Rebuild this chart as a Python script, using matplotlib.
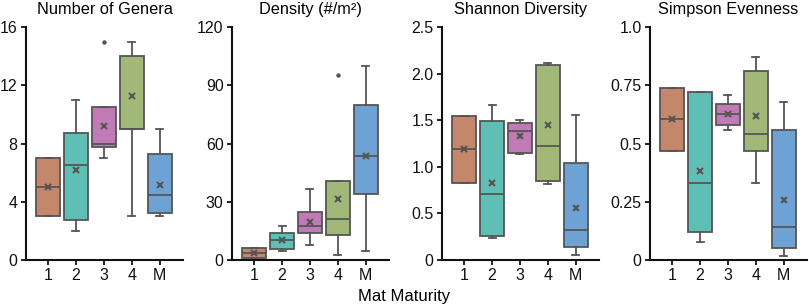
import matplotlib
matplotlib.use("Agg")
import matplotlib.pyplot as plt

groups = ['1', '2', '3', '4', 'M']
colors = ['#c4876b', '#5fbfb4', '#c07ab6', '#a2b878', '#6fa2d4']

# Number of Genera
genera_q1 = [3.0, 2.75, 7.75, 9.0, 3.25]
genera_med = [5.0, 6.5, 8.0, 9.0, 4.5]
genera_q3 = [7.0, 8.75, 10.5, 14.0, 7.25]
genera_lo = [3.0, 2.0, 7.0, 3.0, 3.0]
genera_hi = [7.0, 11.0, 10.5, 15.0, 9.0]
genera_mean = [5.0, 6.17, 9.17, 11.27, 5.12]
genera_fliers = [[], [], [15.0], [], []]

# Density
dens_q1 = [1.0, 5.7, 13.9, 13.0, 34.1]
dens_med = [3.4, 10.5, 17.8, 21.3, 53.8]
dens_q3 = [6.0, 14.0, 24.5, 40.8, 80.0]
dens_lo = [0.5, 4.8, 7.7, 2.6, 4.8]
dens_hi = [6.0, 17.8, 36.5, 40.8, 99.8]
dens_mean = [3.4, 10.6, 19.5, 31.5, 53.5]
dens_fliers = [[], [], [], [95.5], []]

# Shannon Diversity
shan_q1 = [0.83, 0.254, 1.143, 0.843, 0.136]
shan_med = [1.19, 0.704, 1.379, 1.225, 0.325]
shan_q3 = [1.546, 1.493, 1.468, 2.096, 1.046]
shan_lo = [0.83, 0.24, 1.136, 0.821, 0.054]
shan_hi = [1.546, 1.668, 1.5, 2.118, 1.557]
shan_mean = [1.19, 0.832, 1.332, 1.45, 0.56]
shan_fliers = [[], [], [], [], []]

# Simpson Evenness
simp_q1 = [0.47, 0.119, 0.58, 0.47, 0.05]
simp_med = [0.606, 0.331, 0.626, 0.539, 0.144]
simp_q3 = [0.74, 0.719, 0.669, 0.81, 0.557]
simp_lo = [0.47, 0.079, 0.559, 0.331, 0.019]
simp_hi = [0.74, 0.719, 0.707, 0.87, 0.68]
simp_mean = [0.604, 0.384, 0.626, 0.619, 0.259]
simp_fliers = [[], [], [], [], []]

panels = [
    ('Number of Genera', genera_q1, genera_med, genera_q3, genera_lo, genera_hi, genera_mean, genera_fliers,
     [0, 4, 8, 12, 16], ['0', '4', '8', '12', '16']),
    ('Density (#/m²)', dens_q1, dens_med, dens_q3, dens_lo, dens_hi, dens_mean, dens_fliers,
     [0, 30, 60, 90, 120], ['0', '30', '60', '90', '120']),
    ('Shannon Diversity', shan_q1, shan_med, shan_q3, shan_lo, shan_hi, shan_mean, shan_fliers,
     [0, 0.5, 1.0, 1.5, 2.0, 2.5], ['0', '0.5', '1.0', '1.5', '2.0', '2.5']),
    ('Simpson Evenness', simp_q1, simp_med, simp_q3, simp_lo, simp_hi, simp_mean, simp_fliers,
     [0, 0.25, 0.5, 0.75, 1.0], ['0', '0.25', '0.5', '0.75', '1.0']),
]

plt.rcParams['font.family'] = ['Liberation Sans', 'DejaVu Sans']

fig = plt.figure(figsize=(8.09, 3.06), dpi=100)
lefts = [0.0321, 0.2868, 0.5464, 0.8035]
edge = '#555555'

for left, (title, q1, med, q3, lo, hi, mean, fl, yt, ytl) in zip(lefts, panels):
    ax = fig.add_axes([left, 0.150, 0.194, 0.762])
    stats = []
    for i in range(len(groups)):
        stats.append(dict(q1=q1[i], med=med[i], q3=q3[i], whislo=lo[i], whishi=hi[i],
                          mean=mean[i], fliers=fl[i], label=groups[i]))
    bp = ax.bxp(stats, positions=range(1, 6), widths=0.85, capwidths=0.25,
                patch_artist=True, showmeans=True,
                boxprops=dict(edgecolor=edge, linewidth=1.3),
                medianprops=dict(color=edge, linewidth=1.3),
                whiskerprops=dict(color=edge, linewidth=1.3),
                capprops=dict(color=edge, linewidth=1.3),
                meanprops=dict(marker='x', markeredgecolor=edge, markersize=5, markeredgewidth=1.5),
                flierprops=dict(marker='o', markerfacecolor=edge, markeredgecolor=edge, markersize=2.2))
    for patch, c in zip(bp['boxes'], colors):
        patch.set_facecolor(c)
    ax.set_xlim(0.21, 5.83)
    ax.set_ylim(yt[0], yt[-1])
    ax.set_yticks(yt)
    ax.set_yticklabels(ytl)
    ax.set_xticks(range(1, 6))
    ax.set_xticklabels(groups)
    for s in ['top', 'right']:
        ax.spines[s].set_visible(False)
    for s in ['left', 'bottom']:
        ax.spines[s].set_linewidth(1.5)
        ax.spines[s].set_color('#111111')
    ax.tick_params(axis='both', labelsize=11.5, length=3.5, width=1.3, pad=2.5, colors='#111111')
    ax.set_title(title, fontsize=11.8, pad=9)

fig.text(0.5, 0.008, 'Mat Maturity', ha='center', va='bottom', fontsize=12)

fig.savefig('out.png', dpi=100)
